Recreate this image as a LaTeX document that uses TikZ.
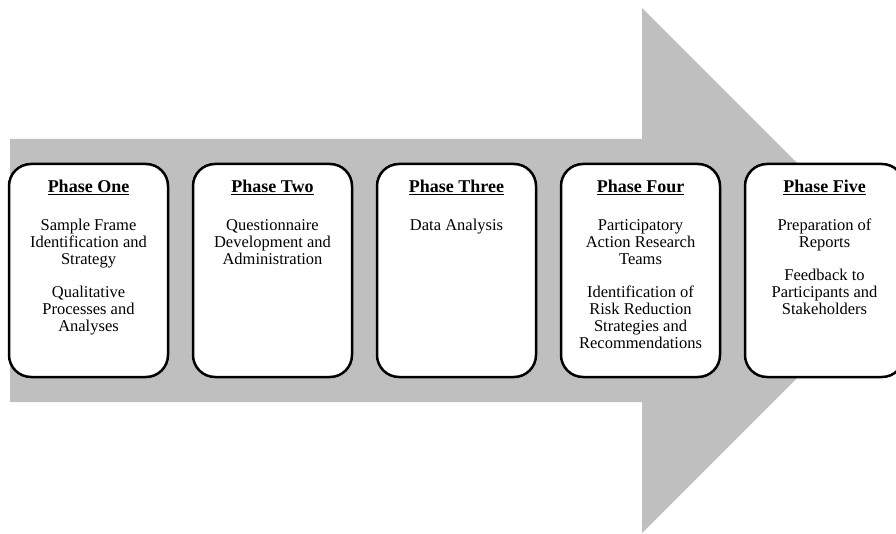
\documentclass[tikz,border=0pt]{standalone}
\usepackage{fontspec}
\setmainfont{Liberation Serif}
\usetikzlibrary{positioning}
\definecolor{arrowgray}{RGB}{191,191,191}

\begin{document}
\begin{tikzpicture}[x=1pt,y=-1pt,
  phasebox/.style={draw=black, line width=2.5pt, fill=white, rounded corners=22pt, minimum width=159pt, minimum height=213pt, inner sep=0pt, outer sep=0pt},
  phasetitle/.style={font=\fontsize{18}{20}\selectfont\bfseries, inner sep=0pt},
  phasebody/.style={font=\fontsize{16.5}{17}\selectfont, align=center, inner sep=0pt}]
\useasboundingbox (0,0) rectangle (896,534);
\clip (0,0) rectangle (896,534);
\fill[arrowgray] (10,139) -- (642,139) -- (642,8) -- (904.5,270.5) -- (642,533) -- (642,402) -- (10,402) -- cycle;
\node[phasebox] (P1) at (88.5,270.5) {};
\node[phasebox, right=25pt of P1] (P2) {};
\node[phasebox, right=25pt of P2] (P3) {};
\node[phasebox, right=25pt of P3] (P4) {};
\node[phasebox, right=25pt of P4] (P5) {};
\node[phasetitle, below=29pt of P1.north, anchor=base] (T1) {\underline{Phase One}};
\node[phasetitle, below=29pt of P2.north, anchor=base] (T2) {\underline{Phase Two}};
\node[phasetitle, below=29pt of P3.north, anchor=base] (T3) {\underline{Phase Three}};
\node[phasetitle, below=29pt of P4.north, anchor=base] (T4) {\underline{Phase Four}};
\node[phasetitle, below=29pt of P5.north, anchor=base] (T5) {\underline{Phase Five}};
\node[phasebody, below=55pt of P1.north] (B1) {Sample Frame\\Identification and\\Strategy\\[16pt]Qualitative\\Processes and\\Analyses};
\node[phasebody, below=55pt of P2.north] (B2) {Questionnaire\\Development and\\Administration};
\node[phasebody, below=55pt of P3.north] (B3) {Data Analysis};
\node[phasebody, below=55pt of P4.north] (B4) {Participatory\\Action Research\\Teams\\[16pt]Identification of\\Risk Reduction\\Strategies and\\Recommendations};
\node[phasebody, below=55pt of P5.north] (B5) {Preparation of\\Reports\\[16pt]Feedback to\\Participants and\\Stakeholders};
\end{tikzpicture}
\end{document}
